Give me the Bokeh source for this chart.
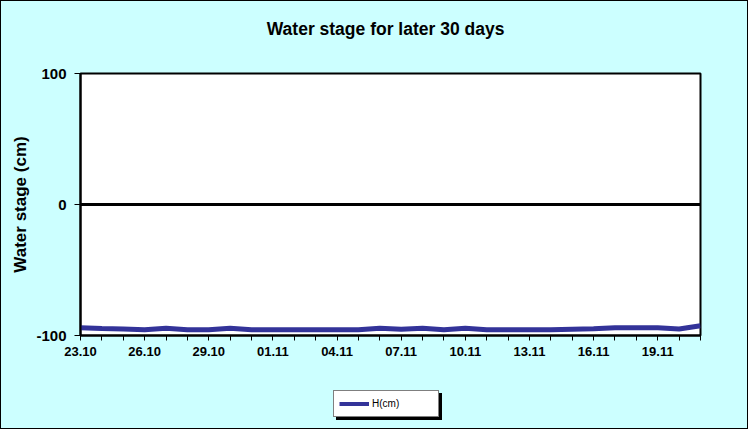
from bokeh.plotting import figure
from bokeh.layouts import column
from bokeh.models import Range1d, FixedTicker, Span, Legend, LegendItem, Label
from bokeh.embed import file_html
from bokeh.resources import INLINE

dates = ["23.10", "24.10", "25.10", "26.10", "27.10", "28.10", "29.10", "30.10", "31.10",
         "01.11", "02.11", "03.11", "04.11", "05.11", "06.11", "07.11", "08.11", "09.11",
         "10.11", "11.11", "12.11", "13.11", "14.11", "15.11", "16.11", "17.11", "18.11",
         "19.11", "20.11", "21.11"]
h_cm = [-94.0, -94.7, -95.0, -95.6, -94.5, -95.6, -95.6, -94.5, -95.6, -95.6,
        -95.6, -95.6, -95.6, -95.6, -94.5, -95.3, -94.5, -95.6, -94.5, -95.6,
        -95.6, -95.6, -95.6, -95.2, -94.8, -94.0, -94.0, -94.0, -95.0, -92.5]
y_ticks = [-100, 0, 100]
y_tick_labels = {-100: "-100", 0: "0", 100: "100"}
title_text = "Water stage for later 30 days"
y_label_text = "Water stage (cm)"
series_name = "H(cm)"

BG = "#CCFFFF"
LINE = "#333399"
FONT = "Liberation Sans"

x = list(range(len(dates)))

# title strip
p0 = figure(width=748, height=41, output_backend="svg", toolbar_location=None,
            x_range=Range1d(0, 1), y_range=Range1d(0, 1),
            min_border=0, background_fill_color=BG, border_fill_color=BG)
p0.styles = {"border-top": "1px solid black", "border-left": "1px solid black",
             "border-right": "1px solid black"}
p0.axis.visible = False
p0.grid.visible = False
p0.outline_line_color = None
p0.add_layout(Label(x=0.492, y=0.325, text=title_text, text_font=FONT,
                    text_font_style="bold", text_font_size="17.5px",
                    text_align="center", text_baseline="middle", text_color="black"))

# main chart
p = figure(width=748, height=340, output_backend="svg", toolbar_location=None,
           x_range=Range1d(0, len(dates) - 1), y_range=Range1d(-100, 100),
           min_border_left=79, min_border_right=49, min_border_top=32, min_border_bottom=46,
           background_fill_color="white", border_fill_color=BG)
p.styles = {"border-left": "1px solid black", "border-right": "1px solid black"}
p.grid.visible = False
p.outline_line_color = "black"
p.outline_line_width = 2

xa = p.xaxis[0]
xa.ticker = FixedTicker(ticks=x)
xa.major_label_overrides = {i: (d if i % 3 == 0 else "") for i, d in enumerate(dates)}
xa.major_label_text_font = FONT
xa.major_label_text_font_style = "bold"
xa.major_label_text_font_size = "13px"
xa.major_label_text_color = "black"
xa.major_tick_out = 5
xa.major_tick_in = 0
xa.minor_tick_out = 0
xa.minor_tick_in = 0
xa.axis_line_color = "black"
xa.axis_line_width = 2
xa.major_tick_line_color = "black"
xa.major_label_standoff = 6

ya = p.yaxis[0]
ya.ticker = FixedTicker(ticks=y_ticks)
ya.major_label_overrides = y_tick_labels
ya.major_label_text_font = FONT
ya.major_label_text_font_style = "bold"
ya.major_label_text_font_size = "15px"
ya.major_label_text_color = "black"
ya.major_tick_out = 6
ya.major_tick_in = 0
ya.minor_tick_out = 0
ya.minor_tick_in = 0
ya.axis_line_color = "black"
ya.axis_line_width = 2
ya.major_tick_line_color = "black"
ya.major_label_standoff = 8
ya.axis_label = y_label_text
ya.axis_label_text_font = FONT
ya.axis_label_text_font_style = "bold"
ya.axis_label_text_font_size = "17px"
ya.axis_label_text_color = "black"
ya.axis_label_standoff = 3

p.add_layout(Span(location=0, dimension="width", line_color="black", line_width=3))
p.line(x, h_cm, line_color=LINE, line_width=5)

# legend strip below the chart
p2 = figure(width=748, height=48, output_backend="svg", toolbar_location=None,
            x_range=Range1d(0, 1), y_range=Range1d(0, 1),
            min_border=0, background_fill_color=BG, border_fill_color=BG)
p2.styles = {"border-bottom": "1px solid black", "border-left": "1px solid black",
             "border-right": "1px solid black"}
p2.axis.visible = False
p2.grid.visible = False
p2.outline_line_color = None
r2 = p2.line([-10, -9], [-10, -10], line_color=LINE, line_width=4)


def make_legend(loc, label, shadow=False):
    return Legend(items=[LegendItem(label=label, renderers=[r2])], location=loc,
                  padding=5, spacing=0, margin=0, glyph_width=30, glyph_height=15,
                  label_height=15, label_width=61, label_standoff=3,
                  label_text_font=FONT, label_text_font_size="10px",
                  label_text_color="black",
                  background_fill_color="black" if shadow else "white",
                  background_fill_alpha=1.0,
                  border_line_color="black", border_line_width=1)


p2.add_layout(make_legend((256, 9), " ", shadow=True))
p2.add_layout(make_legend((253, 12), series_name))

layout = column(p0, p, p2, spacing=0, styles={"background-color": BG})
open("out.html", "w").write(file_html(layout, INLINE))
